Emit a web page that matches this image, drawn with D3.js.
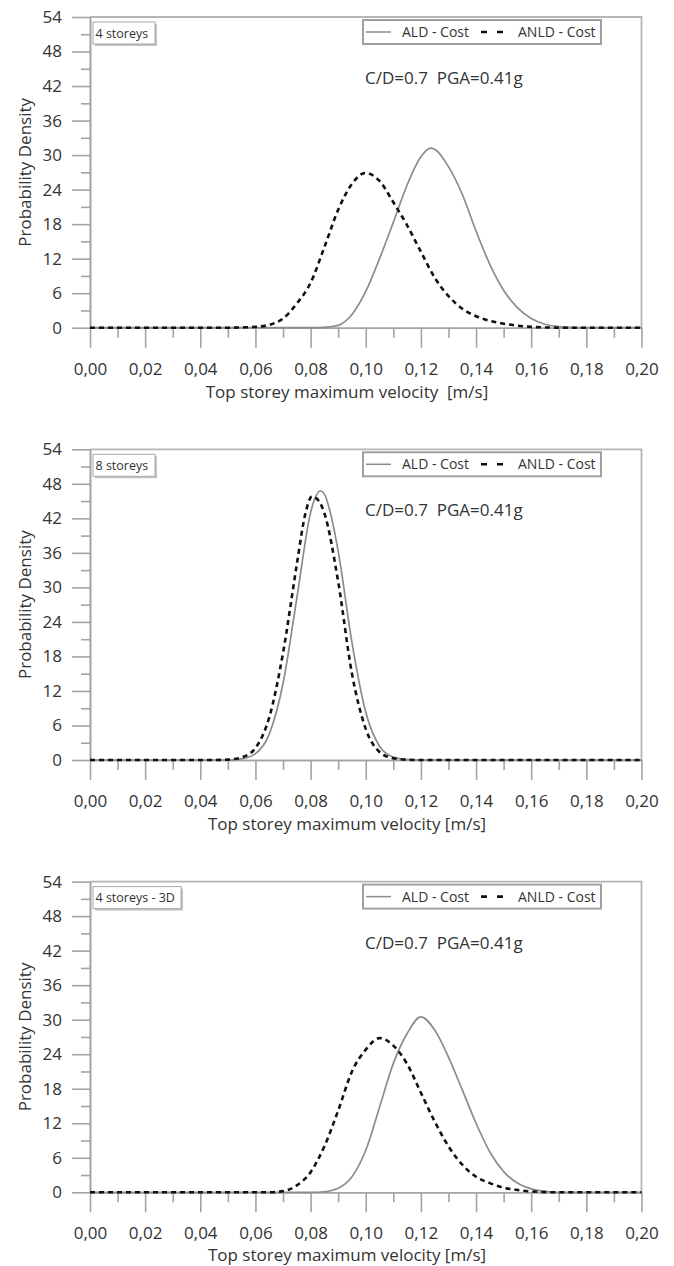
<!DOCTYPE html>
<html>
<head>
<meta charset="utf-8">
<script src="https://cdn.jsdelivr.net/npm/d3@7"></script>
<style>
  html, body { margin: 0; padding: 0; background: #fff; }
  svg { display: block; }
  text { font-family: "Open Sans", "Noto Sans", sans-serif; fill: #333; }
</style>
</head>
<body>
<svg id="chart" width="674" height="1266"></svg>
<script>
// Probability density of the top storey maximum velocity, ALD vs ANLD cost designs
const panelLabels = ["4 storeys", "8 storeys", "4 storeys - 3D"];
const xTitles = [
  "Top storey maximum velocity  [m/s]",
  "Top storey maximum velocity [m/s]",
  "Top storey maximum velocity [m/s]"
];
const seriesNames = ["ALD - Cost", "ANLD - Cost"];
const annotation = "C/D=0.7  PGA=0.41g";
const yLabel = "Probability Density";

const xTicks = [0, 0.02, 0.04, 0.06, 0.08, 0.10, 0.12, 0.14, 0.16, 0.18, 0.20];
const xMinorTicks = [0.01, 0.03, 0.05, 0.07, 0.09, 0.11, 0.13, 0.15, 0.17, 0.19];
const yTicks = [0, 6, 12, 18, 24, 30, 36, 42, 48, 54];
const yMinorTicks = [3, 9, 15, 21, 27, 33, 39, 45, 51];

// [velocity m/s, density]
const ald4 = [[0,0],[0.080,0],[0.085,0.05],[0.090,0.4],[0.095,2.3],[0.100,6.3],[0.105,12.0],[0.110,18.3],[0.115,24.8],[0.120,29.7],[0.1235,31.2],[0.125,31.0],[0.130,28.0],[0.135,23.2],[0.140,16.8],[0.145,11.0],[0.150,6.5],[0.155,3.5],[0.160,1.6],[0.165,0.6],[0.170,0.2],[0.175,0.05],[0.180,0],[0.200,0]];
const anld4 = [[0,0],[0.050,0],[0.055,0.05],[0.060,0.15],[0.065,0.5],[0.070,1.6],[0.075,4.2],[0.080,7.8],[0.085,14.0],[0.090,20.5],[0.095,25.0],[0.0998,26.9],[0.105,25.5],[0.110,21.8],[0.115,17.8],[0.120,13.2],[0.125,8.7],[0.130,5.5],[0.135,3.3],[0.140,2.0],[0.145,1.2],[0.150,0.7],[0.155,0.35],[0.160,0.15],[0.165,0.05],[0.170,0],[0.200,0]];
const ald8 = [[0,0],[0.050,0],[0.055,0.2],[0.060,1.1],[0.065,4.5],[0.070,13.3],[0.075,28.1],[0.080,43.0],[0.0815,45.4],[0.0835,46.8],[0.085,46.2],[0.0875,42.3],[0.090,36.3],[0.095,20.4],[0.100,8.3],[0.105,2.4],[0.110,0.5],[0.115,0.08],[0.120,0],[0.200,0]];
const anld8 = [[0,0],[0.045,0],[0.050,0.07],[0.055,0.45],[0.060,2.1],[0.065,7.4],[0.070,18.6],[0.075,34.0],[0.078,42.6],[0.0805,45.8],[0.083,45.0],[0.085,42.9],[0.090,31.0],[0.095,15.0],[0.100,5.4],[0.105,1.4],[0.110,0.3],[0.115,0.05],[0.120,0],[0.200,0]];
const ald3d = [[0,0],[0.080,0],[0.085,0.1],[0.090,0.7],[0.095,2.7],[0.100,7.3],[0.105,14.8],[0.110,22.4],[0.115,27.6],[0.120,30.5],[0.125,28.2],[0.130,23.5],[0.135,17.8],[0.140,12.0],[0.145,7.0],[0.150,3.6],[0.155,1.6],[0.160,0.6],[0.165,0.15],[0.170,0],[0.200,0]];
const anld3d = [[0,0],[0.065,0],[0.070,0.2],[0.075,1.2],[0.080,3.5],[0.085,8.0],[0.090,14.2],[0.095,21.0],[0.100,24.8],[0.105,26.8],[0.110,25.5],[0.115,22.3],[0.120,17.3],[0.125,12.3],[0.130,8.0],[0.135,4.8],[0.140,2.7],[0.145,1.6],[0.150,0.8],[0.155,0.4],[0.160,0.15],[0.170,0],[0.200,0]];

const panelSeries = [[ald4, anld4], [ald8, anld8], [ald3d, anld3d]];

// layout
const W = 674, H = 1266;
const plotLeft = 90, plotRight = 641.5, plotH = 310.7;
const panelTops = [17, 449.3, 881.6];
const labelBoxW = [62, 62, 88];
const axisColor = "#a3a3a3";
const solidColor = "#8c8c8c";

const svg = d3.select("#chart");
const x = d3.scaleLinear().domain([0, 0.2]).range([plotLeft, plotRight]);
const y = d3.scaleLinear().domain([0, 54]).range([plotH, 0]);
const commaLocale = d3.formatLocale({decimal: ",", thousands: ".", grouping: [3], currency: ["", ""]});
const fmtX = commaLocale.format(".2f");

const line = d3.line()
  .x(d => x(d[0]))
  .y(d => y(d[1]))
  .curve(d3.curveMonotoneX);

function styleAxis(g) {
  g.selectAll("path, line").attr("stroke", axisColor).attr("stroke-width", 1.6);
  g.selectAll("text")
    .style("font-family", "'Open Sans', 'Noto Sans', sans-serif")
    .style("font-size", "17px")
    .attr("fill", "#333");
}

panelTops.forEach((top, i) => {
  const g = svg.append("g").attr("transform", `translate(0,${top})`);

  // frame: top and right edges
  g.append("path")
    .attr("d", `M${plotLeft},0H${plotRight}V${plotH}`)
    .attr("fill", "none")
    .attr("stroke", "#b5b5b5")
    .attr("stroke-width", 1.8);

  // y axis
  g.append("g")
    .attr("transform", `translate(${plotLeft},0)`)
    .call(d3.axisLeft(y).tickValues(yMinorTicks).tickSize(9).tickSizeOuter(0).tickFormat(""))
    .call(styleAxis);
  g.append("g")
    .attr("transform", `translate(${plotLeft},0)`)
    .call(d3.axisLeft(y).tickValues(yTicks).tickSize(18).tickSizeOuter(0).tickPadding(10))
    .call(styleAxis);

  // x axis sitting on the zero line
  g.append("g")
    .attr("transform", `translate(0,${y(0)})`)
    .call(d3.axisBottom(x).tickValues(xMinorTicks).tickSize(10).tickSizeOuter(0).tickFormat(""))
    .call(styleAxis);
  g.append("g")
    .attr("transform", `translate(0,${y(0)})`)
    .call(d3.axisBottom(x).tickValues(xTicks).tickSize(20).tickSizeOuter(0).tickPadding(15).tickFormat(fmtX))
    .call(styleAxis);

  // axis titles (the last one is kept inside the page)
  const titleY = Math.min(plotH + 70, H - top - 5);
  g.append("text")
    .attr("x", 347)
    .attr("y", titleY)
    .attr("text-anchor", "middle")
    .style("white-space", "pre")
    .style("font-size", "17px")
    .text(xTitles[i]);
  g.append("text")
    .attr("transform", `translate(31,${plotH / 2}) rotate(-90)`)
    .attr("text-anchor", "middle")
    .style("font-size", "17px")
    .text(yLabel);

  // curves
  const [ald, anld] = panelSeries[i];
  g.append("path")
    .datum(ald)
    .attr("d", line)
    .attr("fill", "none")
    .attr("stroke", solidColor)
    .attr("stroke-width", 1.7);
  g.append("path")
    .datum(anld)
    .attr("d", line)
    .attr("fill", "none")
    .attr("stroke", "#111")
    .attr("stroke-width", 2.6)
    .attr("stroke-dasharray", "5,4");

  // panel label with shadowed box
  const labelW = labelBoxW[i];
  g.append("rect")
    .attr("x", 95).attr("y", 7)
    .attr("width", labelW).attr("height", 22)
    .attr("fill", "#c4c4c4");
  g.append("rect")
    .attr("x", 93).attr("y", 5)
    .attr("width", labelW).attr("height", 22)
    .attr("fill", "#fff")
    .attr("stroke", "#a8a8a8")
    .attr("stroke-width", 1);
  g.append("text")
    .attr("x", 95.5).attr("y", 20.5)
    .style("font-size", "12.5px")
    .text(panelLabels[i]);

  // legend
  const lg = g.append("g");
  lg.append("rect")
    .attr("x", 363).attr("y", 3)
    .attr("width", 238).attr("height", 24)
    .attr("fill", "#fff")
    .attr("stroke", "#a0a0a0")
    .attr("stroke-width", 2);
  lg.append("line")
    .attr("x1", 366).attr("x2", 391).attr("y1", 15).attr("y2", 15)
    .attr("stroke", solidColor).attr("stroke-width", 1.5);
  lg.append("text")
    .attr("x", 402).attr("y", 20)
    .style("font-size", "14px")
    .text(seriesNames[0]);
  lg.append("line")
    .attr("x1", 481).attr("x2", 504).attr("y1", 15).attr("y2", 15)
    .attr("stroke", "#111").attr("stroke-width", 2.6)
    .attr("stroke-dasharray", "6,10");
  lg.append("text")
    .attr("x", 518).attr("y", 20)
    .style("font-size", "14px")
    .text(seriesNames[1]);

  // design case annotation
  g.append("text")
    .attr("x", 365).attr("y", 67)
    .style("white-space", "pre")
    .style("font-size", "17px")
    .text(annotation);
});
</script>
</body>
</html>
